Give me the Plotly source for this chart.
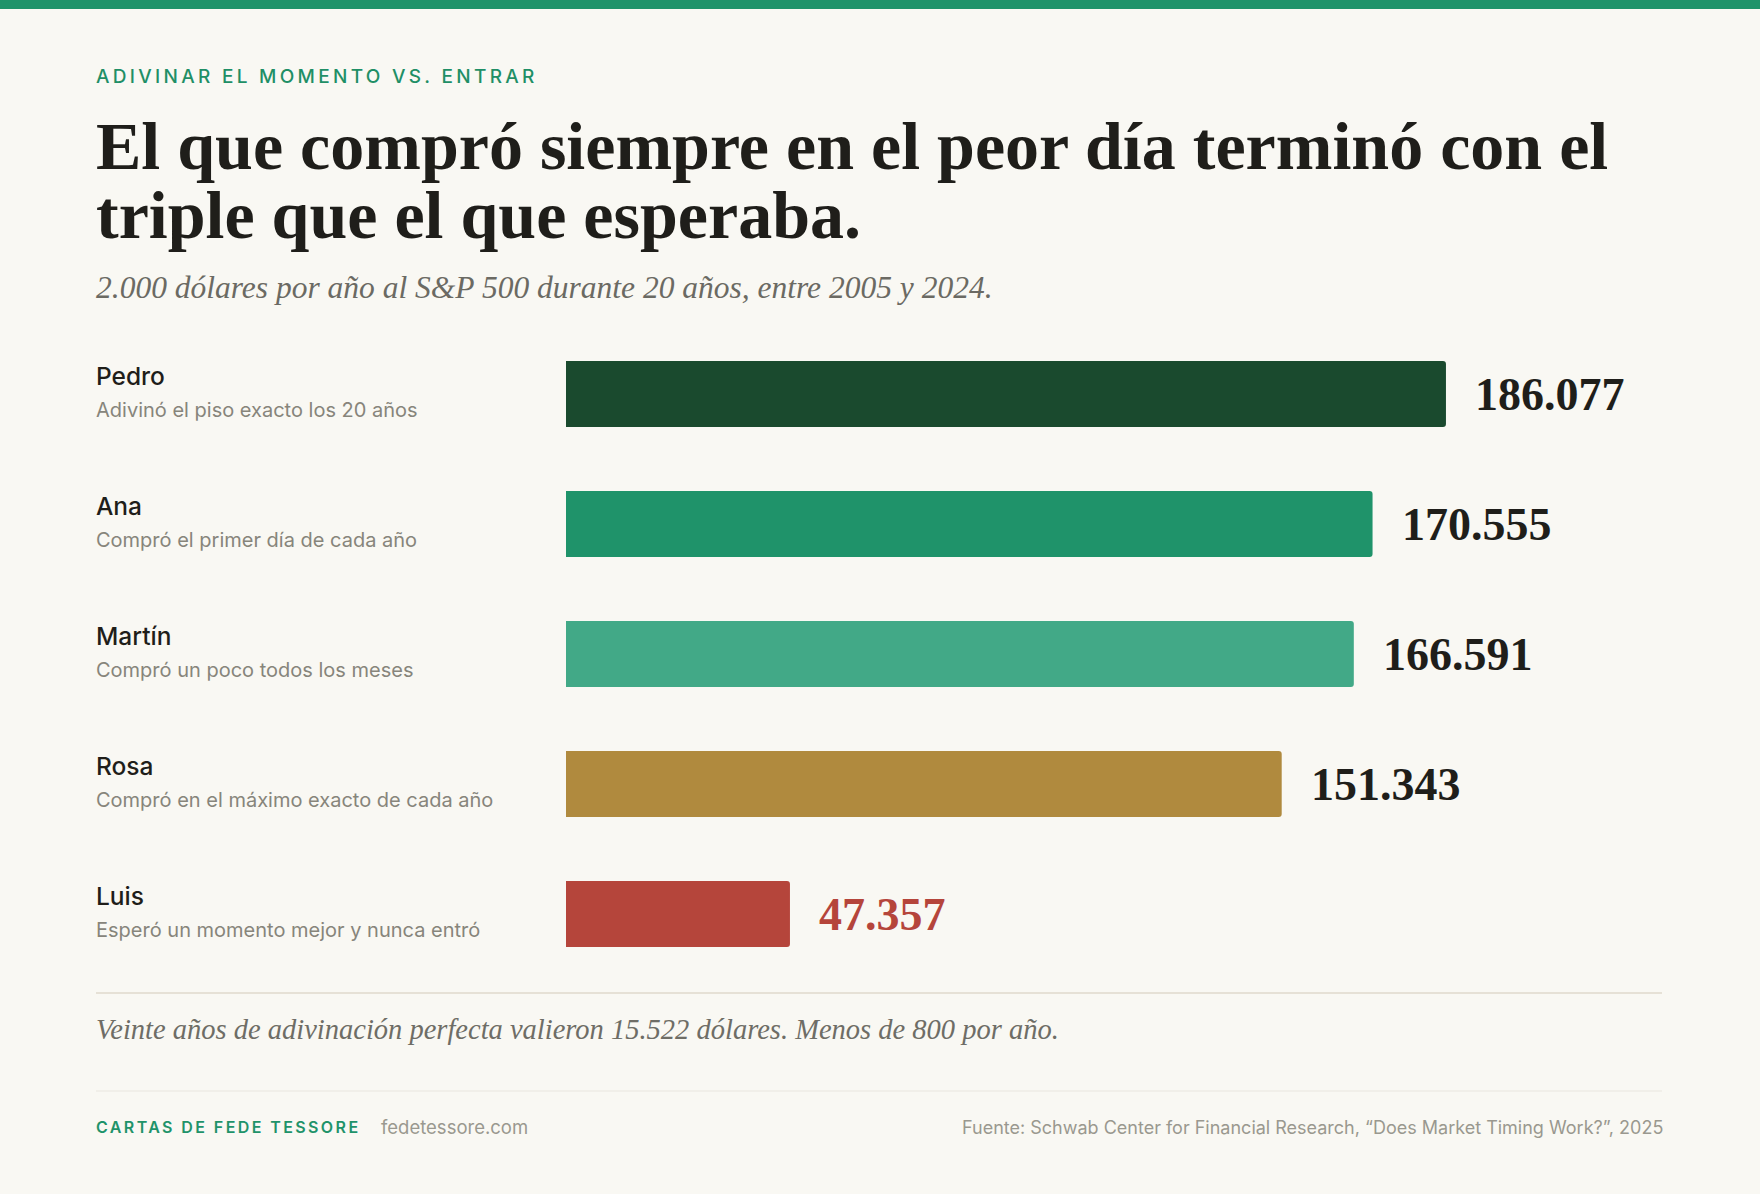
import plotly.graph_objects as go

# datos
nombres = ["Pedro", "Ana", "Martín", "Rosa", "Luis"]
descripciones = [
    "Adivinó el piso exacto los 20 años",
    "Compró el primer día de cada año",
    "Compró un poco todos los meses",
    "Compró en el máximo exacto de cada año",
    "Esperó un momento mejor y nunca entró",
]
valores = [186077, 170555, 166591, 151343, 47357]
etiquetas = ["186.077", "170.555", "166.591", "151.343", "47.357"]
colores = ["#1a4a2e", "#1f936a", "#42a987", "#b08a3e", "#b5453b"]
color_valor = ["#1f1e1a", "#1f1e1a", "#1f1e1a", "#1f1e1a", "#b5453b"]

W, H = 1760, 1194
BG = "#f9f8f3"
VERDE = "#1f936a"
SERIF = "Liberation Serif"
SANS = "Inter"
IZQ = 94  # borde izquierdo del texto (px)


def py(px):
    # pixeles desde arriba -> coordenada paper
    return 1 - px / H


def px_x(px):
    return px / W


def espaciado(txt, px):
    return f'<span style="letter-spacing:{px}px">{txt}</span>'


fig = go.Figure()
fig.add_trace(go.Bar(
    x=valores, y=nombres, orientation="h",
    marker=dict(color=colores, cornerradius=3, line=dict(width=0)),
    width=0.508, hoverinfo="skip",
))

ann = []
# encabezado
ann.append(dict(text=espaciado("ADIVINAR EL MOMENTO VS. ENTRAR", 3.3), x=px_x(IZQ), y=py(76),
                font=dict(family=SANS, size=19, color="#1f8f66", weight=500)))
ann.append(dict(text="El que compró siempre en el peor día terminó con el", x=px_x(94), y=py(146),
                font=dict(family=SERIF, size=68, color="#1f1e1a", weight="bold")))
ann.append(dict(text="triple que el que esperaba.", x=px_x(94), y=py(215),
                font=dict(family=SERIF, size=68, color="#1f1e1a", weight="bold")))
ann.append(dict(text="2.000 dólares por año al S&P 500 durante 20 años, entre 2005 y 2024.",
                x=px_x(IZQ), y=py(287),
                font=dict(family=SERIF, size=31.5, color="#6b6a63", style="italic")))

# filas
for n, d, v, e, c in zip(nombres, descripciones, valores, etiquetas, color_valor):
    ann.append(dict(text=n, x=px_x(IZQ), xref="paper", y=n, yref="y", yshift=18,
                    font=dict(family=SANS, size=24.5, color="#1f1e1a", weight=500)))
    ann.append(dict(text=d, x=px_x(IZQ), xref="paper", y=n, yref="y", yshift=-16,
                    font=dict(family=SANS, size=20, color="#87857b")))
    ann.append(dict(text=e, x=v, xref="x", y=n, yref="y", xshift=27,
                    font=dict(family=SERIF, size=46, color=c, weight="bold")))

# nota y pie
ann.append(dict(text="Veinte años de adivinación perfecta valieron 15.522 dólares. Menos de 800 por año.",
                x=px_x(IZQ), y=py(1029),
                font=dict(family=SERIF, size=28.5, color="#6e6d66", style="italic")))
ann.append(dict(text=espaciado("CARTAS DE FEDE TESSORE", 2.4), x=px_x(IZQ), y=py(1127),
                font=dict(family=SANS, size=16, color=VERDE, weight=600)))
ann.append(dict(text="fedetessore.com", x=px_x(379), y=py(1127),
                font=dict(family=SANS, size=18.5, color="#9a988f")))
ann.append(dict(text="Fuente: Schwab Center for Financial Research, “Does Market Timing Work?”, 2025",
                x=px_x(1665), y=py(1127), xanchor="right",
                font=dict(family=SANS, size=18, color="#9a988f")))

for a in ann:
    a.setdefault("xref", "paper")
    a.setdefault("yref", "paper")
    a.setdefault("xanchor", "left")
    a.setdefault("yanchor", "middle")
    a["showarrow"] = False

shapes = [
    dict(type="rect", xref="paper", yref="paper", x0=0, x1=1, y0=py(9), y1=1,
         fillcolor=VERDE, line=dict(width=0)),
    dict(type="line", xref="paper", yref="paper", x0=px_x(96), x1=px_x(1662),
         y0=py(993), y1=py(993), line=dict(color="#e6e1d6", width=2)),
    dict(type="line", xref="paper", yref="paper", x0=px_x(96), x1=px_x(1662),
         y0=py(1091), y1=py(1091), line=dict(color="#e9e6df", width=1)),
]

escala = 0.004729  # px por dólar
fig.update_layout(
    width=W, height=H, autosize=False,
    margin=dict(l=0, r=0, t=0, b=0),
    paper_bgcolor=BG, plot_bgcolor=BG,
    showlegend=False,
    annotations=ann, shapes=shapes,
    xaxis=dict(domain=[px_x(566), px_x(1662)], range=[0, (1662 - 566) / escala],
               visible=False, fixedrange=True),
    yaxis=dict(domain=[py(979), py(329)], range=[4.5, -0.5], type="category",
               categoryorder="array", categoryarray=nombres,
               visible=False, fixedrange=True),
)

fig.write_html("out.html", config={"displayModeBar": False},
               post_script="document.body.style.margin='0';document.body.style.background='#f9f8f3';")
